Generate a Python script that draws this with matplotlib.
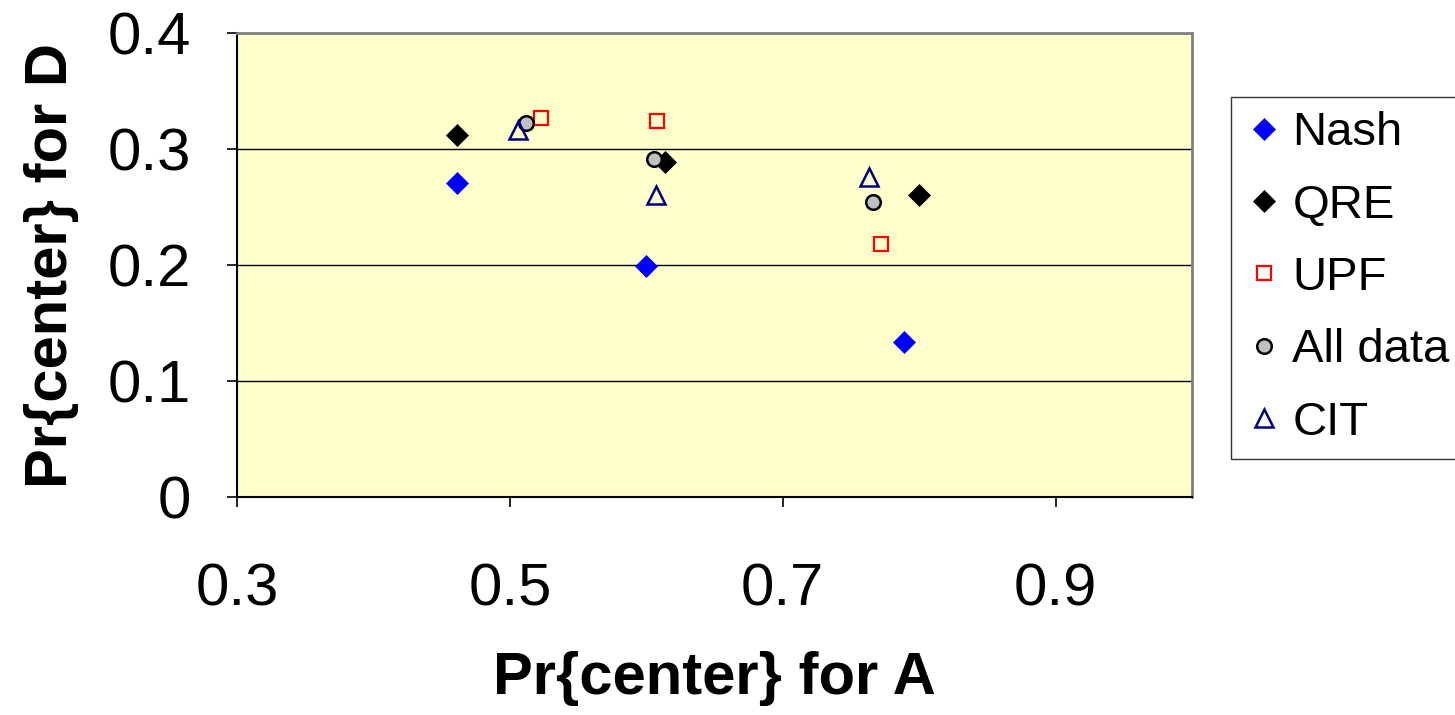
import numpy as np
import matplotlib
matplotlib.use("Agg")
import matplotlib.pyplot as plt

plt.rcParams["font.family"] = ["Liberation Sans", "DejaVu Sans"]

# Series values
nash_x = [0.461, 0.600, 0.789]
nash_y = [0.271, 0.199, 0.134]

qre_x = [0.461, 0.614, 0.800]
qre_y = [0.312, 0.289, 0.260]

upf_x = [0.523, 0.608, 0.772]
upf_y = [0.327, 0.324, 0.218]

all_x = [0.512, 0.606, 0.766]
all_y = [0.322, 0.291, 0.254]

cit_x = [0.506, 0.607, 0.763]
cit_y = [0.316, 0.260, 0.276]

x_ticks = [0.3, 0.5, 0.7, 0.9]
y_ticks = [0, 0.1, 0.2, 0.3, 0.4]
y_tick_labels = ["0", "0.1", "0.2", "0.3", "0.4"]

fig = plt.figure(figsize=(14.55, 7.15), dpi=100)
ax = fig.add_axes([237 / 1455, 1 - 497 / 715, (1192 - 237) / 1455, (497 - 33) / 715])
ax.set_facecolor("#FFFFCC")

ax.plot(nash_x, nash_y, linestyle="none", marker="D", markersize=11,
        color="#0000FF", markeredgewidth=0.5, label="Nash", zorder=3)
ax.plot(qre_x, qre_y, linestyle="none", marker="D", markersize=11,
        color="black", markeredgewidth=0.5, label="QRE", zorder=3)
ax.plot(upf_x, upf_y, linestyle="none", marker="s", markersize=10.5,
        markerfacecolor="none", markeredgecolor="#FF0000", markeredgewidth=1.6,
        label="UPF", zorder=3)
ax.plot(all_x, all_y, linestyle="none", marker="o", markersize=10.5,
        markerfacecolor="#C0C0C0", markeredgecolor="black", markeredgewidth=1.8,
        label="All data", zorder=3)
ax.plot(cit_x, cit_y, linestyle="none", marker="^", markersize=13,
        markerfacecolor="none", markeredgecolor="#000080", markeredgewidth=1.8,
        label="CIT", zorder=3)

ax.set_xlim(0.3, 1.0)
ax.set_ylim(0, 0.4)
ax.set_xticks(x_ticks)
ax.set_xticklabels([f"{v:.1f}" for v in x_ticks])
ax.set_yticks(y_ticks)
ax.set_yticklabels(y_tick_labels)
ax.tick_params(axis="both", labelsize=43, direction="out", length=7, width=1.2)
ax.tick_params(axis="x", pad=40)
ax.tick_params(axis="y", pad=26)

ax.yaxis.grid(True, color="black", linewidth=1.0)
ax.set_axisbelow(True)

ax.spines["left"].set_color("black")
ax.spines["bottom"].set_color("black")
ax.spines["left"].set_linewidth(1.5)
ax.spines["bottom"].set_linewidth(1.5)
ax.spines["top"].set_color("#808080")
ax.spines["right"].set_color("#808080")
ax.spines["top"].set_linewidth(2)
ax.spines["right"].set_linewidth(2)

ax.set_xlabel("Pr{center} for A", fontsize=43, fontweight="bold", labelpad=24)
ax.set_ylabel("Pr{center} for D", fontsize=43, fontweight="bold", labelpad=21)

leg = ax.legend(loc="upper left", bbox_to_anchor=(1231 / 1455, 1 - 97 / 715),
                bbox_transform=fig.transFigure, fontsize=34, frameon=True,
                fancybox=False, edgecolor="black", borderpad=0.3,
                labelspacing=0.6, handlelength=0.8, handletextpad=0.2,
                borderaxespad=0)
leg.get_frame().set_linewidth(1.0)

fig.savefig("out.png", dpi=100)
